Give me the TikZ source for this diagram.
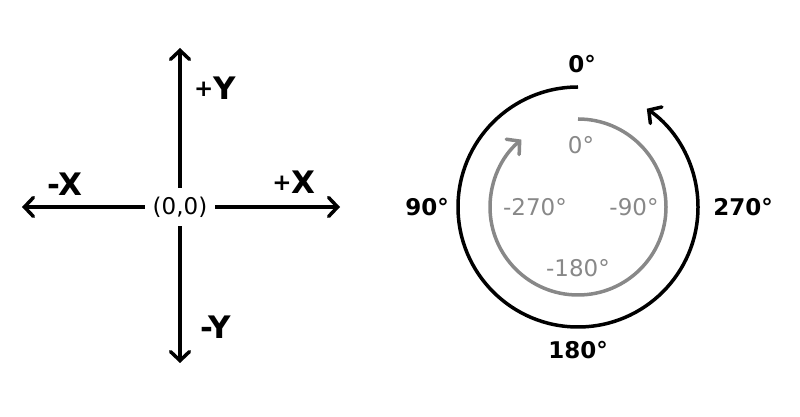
\documentclass[tikz,border=0pt]{standalone}
\usepackage{fontspec}
\setmainfont{DejaVu Sans}
\usetikzlibrary{arrows.meta}
\definecolor{midgray}{HTML}{888888}
\tikzset{
  axis/.style={line width=3.5pt, -{Straight Barb[length=9pt,width=19pt,line cap=round]}},
  ring/.style={line width=3.5pt, -{Straight Barb[length=9pt,width=20pt,line cap=round]}},
  lbl/.style={inner sep=0pt, font=\fontsize{23}{27}\selectfont},
  blbl/.style={inner sep=0pt, font=\fontsize{23}{27}\selectfont\bfseries},
  axlbl/.style={inner sep=0pt, font=\fontsize{31}{35}\selectfont\bfseries},
}
\newcommand{\plussign}{\raisebox{3pt}{\fontsize{23}{27}\selectfont +}}
\begin{document}
\begin{tikzpicture}[x=1pt,y=1pt]
\useasboundingbox (0,0) rectangle (800,417);
% axes
\node[lbl, inner xsep=8pt, inner ysep=3pt, minimum height=38pt] (o) at (180,210) {(0,0)};
\coordinate (tipT) at (180,369);
\coordinate (tipB) at (180,54);
\coordinate (tipL) at (22,210);
\coordinate (tipR) at (340,210);
\draw[axis] (o.north) -- (tipT);
\draw[axis] (o.south) -- (tipB);
\draw[axis] (o.west) -- (tipL);
\draw[axis] (o.east) -- (tipR);
\node[axlbl, anchor=base] (py) at (215,317) {\plussign Y};
\node[axlbl, anchor=base] (ny) at (216,78) {-Y};
\node[axlbl, anchor=base] (nx) at (65,221) {-X};
\node[axlbl, anchor=base] (px) at (294,223) {\plussign X};
% rings
\coordinate (c) at (578,210);
\draw[ring] ([shift={(90:120)}]c) arc[start angle=90, end angle=415, radius=120];
\draw[ring, midgray] ([shift={(90:88)}]c) arc[start angle=90, end angle=-230, radius=88];
% black labels
\node[blbl] (b0) at (582,353) {0°};
\node[blbl] (b90) at (427,210) {90°};
\node[blbl] (b270) at (743,210) {270°};
\node[blbl] (b180) at (578,67) {180°};
% gray labels
\node[lbl, text=midgray] (g0) at (581,272) {0°};
\node[lbl, text=midgray] (g270) at (535,210) {-270°};
\node[lbl, text=midgray] (g90) at (634,210) {-90°};
\node[lbl, text=midgray] (g180) at (578,149) {-180°};
\end{tikzpicture}
\end{document}
